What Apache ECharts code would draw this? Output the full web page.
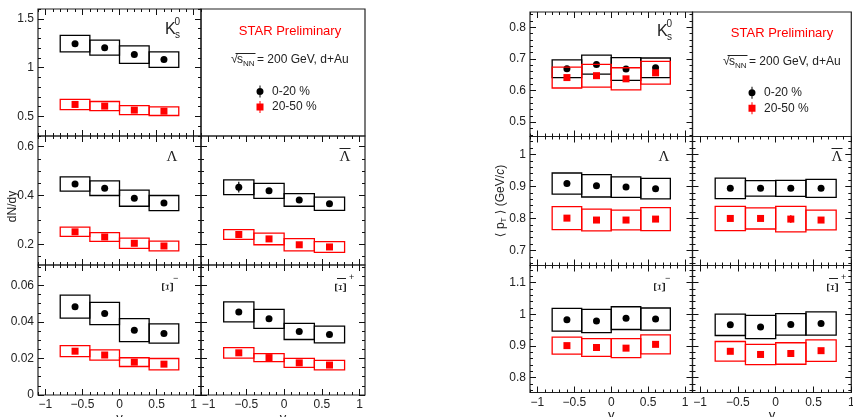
<!DOCTYPE html>
<html>
<head>
<meta charset="utf-8">
<script src="https://cdn.jsdelivr.net/npm/echarts@6/dist/echarts.min.js"></script>
<style>
  html, body { margin: 0; padding: 0; background: #fff; }
  #chart { width: 853px; height: 417px; }
</style>
</head>
<body>
<div id="chart"></div>
<script>
// rapidity bins (centres) and half width of the systematic boxes
const rapidity = [-0.6, -0.2, 0.2, 0.6];
const binHalfWidth = 0.2;

// dN/dy  (value, systematic half height, statistical error)
const dndyK0s_020 = [1.245, 1.204, 1.133, 1.082];
const dndyK0s_020_sys = [0.084, 0.077, 0.090, 0.080];
const dndyK0s_2050 = [0.623, 0.606, 0.565, 0.554];
const dndyK0s_2050_sys = [0.052, 0.047, 0.046, 0.044];
const dndyLam_020 = [0.447, 0.430, 0.389, 0.369];
const dndyLam_020_sys = [0.029, 0.030, 0.033, 0.031];
const dndyLam_2050 = [0.251, 0.230, 0.204, 0.193];
const dndyLam_2050_sys = [0.019, 0.018, 0.021, 0.020];
const dndyLbar_020 = [0.434, 0.419, 0.382, 0.366];
const dndyLbar_020_sys = [0.030, 0.031, 0.026, 0.027];
const dndyLbar_020_stat = [0.022, 0.006, 0.006, 0.006];
const dndyLbar_2050 = [0.240, 0.222, 0.198, 0.189];
const dndyLbar_2050_sys = [0.020, 0.024, 0.025, 0.022];
const dndyXi_020 = [0.0484, 0.0446, 0.0355, 0.0337];
const dndyXi_020_sys = [0.0063, 0.0061, 0.0063, 0.0053];
const dndyXi_2050 = [0.0240, 0.0219, 0.0180, 0.0169];
const dndyXi_2050_sys = [0.0030, 0.0028, 0.0024, 0.0031];
const dndyXibar_020 = [0.0455, 0.0417, 0.0348, 0.0331];
const dndyXibar_020_sys = [0.0055, 0.0052, 0.0044, 0.0046];
const dndyXibar_2050 = [0.0231, 0.0205, 0.0176, 0.0164];
const dndyXibar_2050_sys = [0.0029, 0.0022, 0.0025, 0.0026];

// <pT> (GeV/c)
const ptK0s_020 = [0.669, 0.682, 0.668, 0.672];
const ptK0s_020_sys = [0.028, 0.030, 0.036, 0.031];
const ptK0s_2050 = [0.641, 0.647, 0.637, 0.656];
const ptK0s_2050_sys = [0.033, 0.036, 0.035, 0.036];
const ptLam_020 = [0.909, 0.902, 0.898, 0.893];
const ptLam_020_sys = [0.033, 0.035, 0.032, 0.032];
const ptLam_2050 = [0.801, 0.795, 0.795, 0.798];
const ptLam_2050_sys = [0.036, 0.034, 0.031, 0.036];
const ptLbar_020 = [0.894, 0.894, 0.894, 0.894];
const ptLbar_020_sys = [0.032, 0.024, 0.025, 0.028];
const ptLbar_2050 = [0.800, 0.800, 0.798, 0.795];
const ptLbar_2050_sys = [0.038, 0.033, 0.040, 0.031];
const ptLbar_2050_stat = [0.004, 0.004, 0.0125, 0.004];
const ptXi_020 = [0.983, 0.979, 0.988, 0.985];
const ptXi_020_sys = [0.036, 0.037, 0.036, 0.035];
const ptXi_2050 = [0.901, 0.895, 0.893, 0.905];
const ptXi_2050_sys = [0.027, 0.028, 0.030, 0.030];
const ptXibar_020 = [0.967, 0.960, 0.968, 0.971];
const ptXibar_020_sys = [0.034, 0.037, 0.034, 0.037];
const ptXibar_2050 = [0.883, 0.873, 0.876, 0.885];
const ptXibar_2050_sys = [0.031, 0.032, 0.034, 0.034];

// tick labels
const xTicks = [-1, -0.5, 0, 0.5, 1];
const yTicksDndyK0s = [0.5, 1, 1.5];
const yTicksDndyLam = [0.2, 0.4, 0.6];
const yTicksDndyXi = [0, 0.02, 0.04, 0.06];
const yTicksPtK0s = [0.5, 0.6, 0.7, 0.8];
const yTicksPtLam = [0.7, 0.8, 0.9, 1];
const yTicksPtXi = [0.8, 0.9, 1, 1.1];

const legendNames = ['0-20 %', '20-50 %'];

const ink = '#222';
const red = '#ff0000';
const sans = '"Liberation Sans", Arial, Helvetica, sans-serif';
const serif = '"Liberation Serif", "Times New Roman", serif';

const grid = [], xAxis = [], yAxis = [], series = [];

function stepTicks(range, step) {
  const out = [];
  for (let k = Math.ceil(range[0] / step - 1e-6); k * step <= range[1] + 1e-9; k++) {
    out.push(Math.round(k * step * 1e6) / 1e6);
  }
  return out;
}

function makeAxis(gridIndex, position, range, tickValues, tickLen, label) {
  return {
    type: 'value',
    gridIndex: gridIndex,
    position: position,
    min: range[0],
    max: range[1],
    axisLine: { show: false, onZero: false },
    splitLine: { show: false },
    axisTick: {
      show: true, inside: true, length: tickLen, customValues: tickValues,
      lineStyle: { color: '#111', width: 1 }
    },
    axisLabel: label
      ? Object.assign({ show: true, color: ink, fontSize: 12, fontFamily: sans, customValues: label.values }, label.opts)
      : { show: false }
  };
}

function addGrid(col, row) {
  grid.push({
    left: col.left, top: row.top, width: col.width, height: row.h,
    show: true, borderColor: ink, borderWidth: 1.2, backgroundColor: 'transparent',
    containLabel: false, outerBoundsMode: 'none'
  });
  return grid.length - 1;
}

function addFrame(col, row) {
  const gi = addGrid(col, row);
  xAxis.push({ type: 'value', gridIndex: gi, show: false, min: 0, max: 1 });
  yAxis.push({ type: 'value', gridIndex: gi, show: false, min: 0, max: 1 });
}

function addPanel(col, row, yRange, yMajor, yMinorStep, opts, curves) {
  const gi = addGrid(col, row);
  const xMinor = stepTicks(col.x, 0.1);
  const yMinor = stepTicks(yRange, yMinorStep);
  const xi = xAxis.length, yi = yAxis.length;

  const xLabel = opts.xLabels ? {
    values: xTicks,
    opts: { margin: 4, formatter: v => String(v).replace('-', '\u2212') }
  } : null;
  const yLabel = opts.yLabels ? { values: yMajor, opts: { margin: 4 } } : null;

  const xMain = makeAxis(gi, 'bottom', col.x, xTicks, 6, xLabel);
  if (opts.xLabels) {
    Object.assign(xMain, {
      name: 'y', nameLocation: 'middle', nameGap: 13,
      nameTextStyle: { fontSize: 13, fontFamily: sans, color: ink }
    });
  }
  xAxis.push(xMain);
  xAxis.push(makeAxis(gi, 'bottom', col.x, xMinor, 3, null));
  xAxis.push(makeAxis(gi, 'top', col.x, xTicks, 6, null));
  xAxis.push(makeAxis(gi, 'top', col.x, xMinor, 3, null));

  const yMain = makeAxis(gi, 'left', yRange, yMajor, 6, yLabel);
  if (opts.yName) Object.assign(yMain, opts.yName);
  yAxis.push(yMain);
  yAxis.push(makeAxis(gi, 'left', yRange, yMinor, 3, null));
  yAxis.push(makeAxis(gi, 'right', yRange, yMajor, 6, null));
  yAxis.push(makeAxis(gi, 'right', yRange, yMinor, 3, null));

  curves.forEach((c, k) => {
    const color = k === 0 ? '#000' : red;
    const z = 2 + k * 3;
    series.push({
      type: 'custom', name: legendNames[k], xAxisIndex: xi, yAxisIndex: yi, z: z, silent: true,
      itemStyle: { color: color },
      data: rapidity.map((x, i) => [x, c.vals[i], c.sys[i]]),
      renderItem: (params, api) => {
        const a = api.coord([api.value(0) - binHalfWidth, api.value(1) + api.value(2)]);
        const b = api.coord([api.value(0) + binHalfWidth, api.value(1) - api.value(2)]);
        return {
          type: 'rect',
          shape: { x: a[0], y: a[1], width: b[0] - a[0], height: b[1] - a[1] },
          style: { fill: 'none', stroke: color, lineWidth: 1.3 }
        };
      }
    });
    series.push({
      type: 'scatter', name: legendNames[k], xAxisIndex: xi, yAxisIndex: yi, z: z + 1, silent: true,
      symbol: k === 0 ? 'circle' : 'rect', symbolSize: 7,
      itemStyle: { color: color, opacity: 1 },
      emphasis: { disabled: true },
      data: rapidity.map((x, i) => [x, c.vals[i]])
    });
    if (c.stat) {
      series.push({
        type: 'custom', name: legendNames[k], xAxisIndex: xi, yAxisIndex: yi, z: z + 2, silent: true,
        itemStyle: { color: color },
        data: rapidity.map((x, i) => [x, c.vals[i], c.stat[i]]),
        renderItem: (params, api) => {
          const a = api.coord([api.value(0), api.value(1) + api.value(2)]);
          const b = api.coord([api.value(0), api.value(1) - api.value(2)]);
          return {
            type: 'line',
            shape: { x1: a[0], y1: a[1], x2: b[0], y2: b[1] },
            style: { stroke: color, lineWidth: 1.2 }
          };
        }
      });
    }
  });
}

// ---- left figure: dN/dy ----
const colL = [
  { left: 38, width: 163, x: [-1.1, 1.1] },
  { left: 201, width: 164, x: [-1.1, 1.07] }
];
const rowL = [{ top: 9, h: 127 }, { top: 136, h: 129 }, { top: 265, h: 130 }];

addPanel(colL[0], rowL[0], [0.3, 1.6], yTicksDndyK0s, 0.1, { yLabels: true }, [
  { vals: dndyK0s_020, sys: dndyK0s_020_sys },
  { vals: dndyK0s_2050, sys: dndyK0s_2050_sys }
]);
addFrame(colL[1], rowL[0]);
addPanel(colL[0], rowL[1], [0.115, 0.644], yTicksDndyLam, 0.05, {
  yLabels: true,
  yName: {
    name: 'dN/dy', nameLocation: 'middle', nameRotate: 90, nameGap: 19, nameMoveOverlap: false,
    nameTextStyle: { fontSize: 12, fontFamily: sans, color: ink, padding: [0, 12, 0, 0] }
  }
}, [
  { vals: dndyLam_020, sys: dndyLam_020_sys },
  { vals: dndyLam_2050, sys: dndyLam_2050_sys }
]);
addPanel(colL[1], rowL[1], [0.115, 0.644], yTicksDndyLam, 0.05, {}, [
  { vals: dndyLbar_020, sys: dndyLbar_020_sys, stat: dndyLbar_020_stat },
  { vals: dndyLbar_2050, sys: dndyLbar_2050_sys }
]);
addPanel(colL[0], rowL[2], [0, 0.0712], yTicksDndyXi, 0.005, { xLabels: true, yLabels: true }, [
  { vals: dndyXi_020, sys: dndyXi_020_sys },
  { vals: dndyXi_2050, sys: dndyXi_2050_sys }
]);
addPanel(colL[1], rowL[2], [0, 0.0712], yTicksDndyXi, 0.005, { xLabels: true }, [
  { vals: dndyXibar_020, sys: dndyXibar_020_sys },
  { vals: dndyXibar_2050, sys: dndyXibar_2050_sys }
]);

// ---- right figure: <pT> ----
const colR = [
  { left: 530, width: 162.5, x: [-1.1, 1.1] },
  { left: 692.5, width: 158.8, x: [-1.1, 1.0] }
];
const rowR = [{ top: 12, h: 124.5 }, { top: 136.5, h: 129 }, { top: 265.5, h: 127 }];

addPanel(colR[0], rowR[0], [0.4545, 0.8485], yTicksPtK0s, 0.02, { yLabels: true }, [
  { vals: ptK0s_020, sys: ptK0s_020_sys },
  { vals: ptK0s_2050, sys: ptK0s_2050_sys }
]);
addFrame(colR[1], rowR[0]);
addPanel(colR[0], rowR[1], [0.653, 1.056], yTicksPtLam, 0.02, {
  yLabels: true,
  yName: {
    name: '\u27e8 p{sub|T} \u27e9 (GeV/{it|c})', nameLocation: 'middle', nameRotate: 90, nameGap: 22,
    nameMoveOverlap: false,
    nameTextStyle: {
      fontSize: 12, fontFamily: '"Liberation Sans", "DejaVu Sans", sans-serif', color: ink,
      rich: {
        sub: { fontSize: 8, fontFamily: sans, color: ink, padding: [6, 0, 0, 0] },
        it: { fontSize: 12, fontFamily: sans, fontStyle: 'italic', color: ink }
      }
    }
  }
}, [
  { vals: ptLam_020, sys: ptLam_020_sys },
  { vals: ptLam_2050, sys: ptLam_2050_sys }
]);
addPanel(colR[1], rowR[1], [0.653, 1.056], yTicksPtLam, 0.02, {}, [
  { vals: ptLbar_020, sys: ptLbar_020_sys },
  { vals: ptLbar_2050, sys: ptLbar_2050_sys, stat: ptLbar_2050_stat }
]);
addPanel(colR[0], rowR[2], [0.7526, 1.1546], yTicksPtXi, 0.02, { xLabels: true, yLabels: true }, [
  { vals: ptXi_020, sys: ptXi_020_sys },
  { vals: ptXi_2050, sys: ptXi_2050_sys }
]);
addPanel(colR[1], rowR[2], [0.7526, 1.1546], yTicksPtXi, 0.02, { xLabels: true }, [
  { vals: ptXibar_020, sys: ptXibar_020_sys },
  { vals: ptXibar_2050, sys: ptXibar_2050_sys }
]);

// ---- text annotations (particle names, STAR label, energy) ----
function txt(x, y, text, size, opts) {
  return Object.assign({
    type: 'text', x: x, y: y, silent: true,
    style: Object.assign({
      text: text, fontSize: size, fontFamily: sans, fill: ink,
      align: 'left', verticalAlign: 'middle', textAlign: 'left', textVerticalAlign: 'middle'
    }, opts && opts.style)
  }, opts && opts.el);
}
function centred(x, y, text, size, family, extra) {
  return txt(x, y, text, size, {
    style: { fontFamily: family, align: 'center', textAlign: 'center' },
    el: extra
  });
}
function bar(x1, x2, y) {
  return { type: 'line', silent: true, shape: { x1: x1, y1: y, x2: x2, y2: y }, style: { stroke: ink, lineWidth: 1 } };
}

function figureLabels(dx, dy) {
  return [
    centred(290 + dx, 31.7 + dy, 'STAR Preliminary', 13, sans, null),
    txt(231 + dx, 59.5 + dy, '\u221a', 12.5),
    txt(237 + dx, 60 + dy, 's', 12),
    txt(243 + dx, 64 + dy, 'NN', 8),
    txt(257 + dx, 60 + dy, '= 200 GeV, d+Au', 12),
    bar(235.5 + dx, 255.5 + dx, 53.5 + dy),
    // K0s
    txt(165 + dx, 29.5 + dy, 'K', 16),
    txt(174.5 + dx, 22.5 + dy, '0', 10),
    txt(175 + dx, 35.5 + dy, 's', 10),
    // Lambda, anti-Lambda
    centred(172 + dx, 157, '\u039b', 15, serif, null),
    centred(345 + dx, 157, '\u039b', 15, serif, null),
    bar(339.5 + dx, 350.5 + dx, 148.5),
    // Xi-, anti-Xi+
    centred(168.5 + dx, 287, '\u039e', 16, serif, { rotation: Math.PI / 2 }),
    txt(173 + dx, 279, '\u2212', 9),
    centred(341.5 + dx, 287.5, '\u039e', 16, serif, { rotation: Math.PI / 2 }),
    bar(337 + dx, 346 + dx, 278.5),
    txt(349 + dx, 277.5, '+', 9)
  ];
}
const graphic = figureLabels(0, 0).concat(figureLabels(492, 2));
graphic.forEach(g => { if (g.style && g.style.text === 'STAR Preliminary') g.style.fill = red; });

const legendIconDot = 'path://M3.5,0H4.5V2.6H3.5Z M3.5,9.4H4.5V12H3.5Z M4,2.5A3.5,3.5 0 1 1 3.99,2.5Z';
const legendIconSquare = 'path://M3.5,0H4.5V2.5H3.5Z M3.5,9.5H4.5V12H3.5Z M0.5,2.5H7.5V9.5H0.5Z';

function legendAt(left, top) {
  return {
    left: left, top: top, orient: 'vertical', itemWidth: 8, itemHeight: 12, itemGap: 3.6,
    selectedMode: false,
    textStyle: { fontSize: 12, fontFamily: sans, color: ink, padding: [0, 0, 0, 3] },
    data: [
      { name: legendNames[0], icon: legendIconDot, itemStyle: { color: '#000' } },
      { name: legendNames[1], icon: legendIconSquare, itemStyle: { color: red } }
    ]
  };
}

const chart = echarts.init(document.getElementById('chart'), null, { renderer: 'canvas' });
chart.setOption({
  animation: false,
  backgroundColor: '#fff',
  textStyle: { fontFamily: sans },
  legend: [legendAt(251.5, 80.5), legendAt(743.5, 81.7)],
  grid: grid,
  xAxis: xAxis,
  yAxis: yAxis,
  series: series,
  graphic: graphic
});
</script>
</body>
</html>
